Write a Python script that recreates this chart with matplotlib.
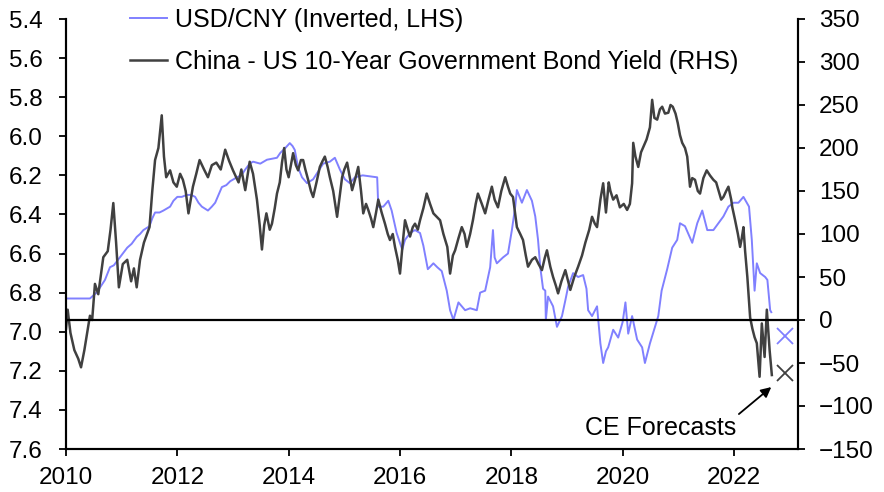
import matplotlib
matplotlib.use("Agg")
import matplotlib.pyplot as plt

plt.rcParams['font.family'] = ['Liberation Sans', 'DejaVu Sans']

# ---------- DATA ----------
# USD/CNY, LHS (inverted)
cny_years = [2010.0, 2010.43, 2010.47, 2010.55, 2010.62, 2010.7, 2010.79, 2010.86, 2010.94, 2011.02,
             2011.1, 2011.18, 2011.27, 2011.33, 2011.39, 2011.5, 2011.55, 2011.6, 2011.68, 2011.75,
             2011.87, 2011.93, 2012.0, 2012.08, 2012.17, 2012.25, 2012.32, 2012.38, 2012.44, 2012.55,
             2012.62, 2012.68, 2012.74, 2012.8, 2012.88, 2012.95, 2013.07, 2013.15, 2013.22, 2013.3,
             2013.36, 2013.49, 2013.61, 2013.79, 2013.85, 2013.94, 2014.02, 2014.07, 2014.11, 2014.17,
             2014.24, 2014.33, 2014.44, 2014.53, 2014.62, 2014.74, 2014.83, 2014.92, 2015.01, 2015.1,
             2015.19, 2015.33, 2015.59, 2015.61, 2015.7, 2015.79, 2015.85, 2015.94, 2016.04, 2016.09,
             2016.18, 2016.27, 2016.36, 2016.42, 2016.5, 2016.6, 2016.67, 2016.75, 2016.84, 2016.9,
             2016.96, 2017.05, 2017.17, 2017.26, 2017.38, 2017.44, 2017.53, 2017.62, 2017.67, 2017.7,
             2017.74, 2017.85, 2017.94, 2018.01, 2018.07, 2018.1, 2018.19, 2018.28, 2018.37, 2018.43,
             2018.48, 2018.52, 2018.57, 2018.61, 2018.62, 2018.66, 2018.75, 2018.82, 2018.91, 2018.97,
             2019.02, 2019.11, 2019.2, 2019.29, 2019.35, 2019.38, 2019.45, 2019.54, 2019.6, 2019.65,
             2019.7, 2019.74, 2019.83, 2019.92, 2020.0, 2020.05, 2020.1, 2020.17, 2020.26, 2020.35,
             2020.4, 2020.49, 2020.58, 2020.64, 2020.7, 2020.8, 2020.89, 2020.98, 2021.03, 2021.12,
             2021.25, 2021.34, 2021.43, 2021.52, 2021.63, 2021.72, 2021.81, 2021.9, 2021.99, 2022.08,
             2022.17, 2022.27, 2022.32, 2022.37, 2022.41, 2022.47, 2022.56, 2022.6, 2022.65, 2022.67]
cny_values = [6.83, 6.83, 6.82, 6.80, 6.77, 6.735, 6.67, 6.66, 6.63, 6.60,
              6.57, 6.55, 6.515, 6.50, 6.48, 6.46, 6.42, 6.39, 6.39, 6.38,
              6.36, 6.33, 6.31, 6.31, 6.30, 6.30, 6.31, 6.34, 6.36, 6.38,
              6.36, 6.34, 6.30, 6.26, 6.25, 6.23, 6.21, 6.20, 6.17, 6.14,
              6.13, 6.14, 6.12, 6.11, 6.085, 6.06, 6.035, 6.05, 6.07, 6.16,
              6.21, 6.24, 6.22, 6.18, 6.14, 6.13, 6.11, 6.17, 6.22, 6.24,
              6.21, 6.20, 6.21, 6.36, 6.36, 6.33, 6.38, 6.495, 6.58, 6.53,
              6.495, 6.48, 6.495, 6.56, 6.68, 6.65, 6.67, 6.69, 6.79, 6.89,
              6.94, 6.85, 6.89, 6.88, 6.89, 6.80, 6.79, 6.67, 6.48, 6.62,
              6.65, 6.62, 6.60, 6.48, 6.36, 6.275, 6.34, 6.275, 6.33, 6.41,
              6.53, 6.67, 6.78, 6.79, 6.94, 6.82, 6.87, 6.975, 6.92, 6.84,
              6.77, 6.70, 6.72, 6.71, 6.78, 6.89, 6.92, 6.87, 7.06, 7.16,
              7.10, 7.08, 6.99, 7.03, 6.95, 6.85, 7.01, 6.92, 7.04, 7.08,
              7.16, 7.06, 6.975, 6.92, 6.79, 6.68, 6.57, 6.53, 6.445, 6.46,
              6.545, 6.445, 6.38, 6.48, 6.48, 6.445, 6.41, 6.36, 6.34, 6.34,
              6.31, 6.36, 6.53, 6.79, 6.65, 6.70, 6.72, 6.735, 6.89, 6.90]

# China - US 10-year yield spread (bp), RHS
spread_years = [2010.0, 2010.03, 2010.08, 2010.15, 2010.22, 2010.27, 2010.33, 2010.38, 2010.43, 2010.47,
                2010.52, 2010.58, 2010.67, 2010.75, 2010.8, 2010.85, 2010.9, 2010.95, 2011.02, 2011.1,
                2011.17, 2011.22, 2011.27, 2011.33, 2011.4, 2011.5, 2011.55, 2011.6, 2011.66, 2011.72,
                2011.76, 2011.8, 2011.87, 2011.93, 2011.99, 2012.05, 2012.1, 2012.15, 2012.2, 2012.28,
                2012.34, 2012.4, 2012.48, 2012.55, 2012.62, 2012.7, 2012.78, 2012.86, 2012.93, 2013.0,
                2013.1, 2013.15, 2013.22, 2013.3, 2013.36, 2013.43, 2013.48, 2013.52, 2013.56, 2013.6,
                2013.66, 2013.7, 2013.75, 2013.79, 2013.84, 2013.88, 2013.92, 2013.96, 2014.0, 2014.04,
                2014.08, 2014.13, 2014.17, 2014.22, 2014.26, 2014.3, 2014.35, 2014.4, 2014.44, 2014.5,
                2014.56, 2014.61, 2014.65, 2014.7, 2014.74, 2014.8, 2014.87, 2014.92, 2014.96, 2015.0,
                2015.05, 2015.1, 2015.14, 2015.2, 2015.25, 2015.3, 2015.34, 2015.39, 2015.43, 2015.48,
                2015.52, 2015.57, 2015.61, 2015.67, 2015.73, 2015.78, 2015.82, 2015.87, 2015.91, 2015.96,
                2016.0, 2016.05, 2016.09, 2016.14, 2016.18, 2016.23, 2016.27, 2016.32, 2016.36, 2016.42,
                2016.48, 2016.54, 2016.6, 2016.66, 2016.72, 2016.78, 2016.85, 2016.9, 2016.95, 2016.99,
                2017.05, 2017.11, 2017.16, 2017.2, 2017.26, 2017.31, 2017.36, 2017.4, 2017.47, 2017.53,
                2017.59, 2017.65, 2017.7, 2017.76, 2017.82, 2017.89, 2017.94, 2017.98, 2018.03, 2018.1,
                2018.16, 2018.21, 2018.26, 2018.3, 2018.37, 2018.43, 2018.49, 2018.55, 2018.6, 2018.64,
                2018.7, 2018.75, 2018.8, 2018.84, 2018.9, 2018.97, 2019.02, 2019.06, 2019.13, 2019.2,
                2019.27, 2019.33, 2019.4, 2019.45, 2019.5, 2019.54, 2019.6, 2019.65, 2019.7, 2019.75,
                2019.78, 2019.83, 2019.89, 2019.95, 2020.02, 2020.08, 2020.13, 2020.17, 2020.19, 2020.23,
                2020.28, 2020.33, 2020.37, 2020.43, 2020.49, 2020.53, 2020.57, 2020.62, 2020.67, 2020.71,
                2020.76, 2020.82, 2020.86, 2020.9, 2020.95, 2020.99, 2021.03, 2021.07, 2021.12, 2021.16,
                2021.21, 2021.25, 2021.3, 2021.35, 2021.39, 2021.45, 2021.51, 2021.57, 2021.63, 2021.68,
                2021.72, 2021.77, 2021.81, 2021.86, 2021.9, 2021.95, 2021.97, 2022.02, 2022.07, 2022.11,
                2022.14, 2022.17, 2022.2, 2022.24, 2022.29, 2022.33, 2022.37, 2022.41, 2022.46, 2022.5,
                2022.55, 2022.59, 2022.64, 2022.68]
spread_values = [-10, 12, -15, -35, -45, -55, -35, -15, 5, 0,
                 42, 30, 73, 80, 105, 136, 90, 38, 65, 70,
                 45, 60, 38, 70, 90, 108, 150, 186, 200, 238,
                 190, 166, 174, 160, 155, 170, 163, 150, 124, 155,
                 170, 186, 175, 166, 180, 183, 175, 198, 185, 174,
                 160, 175, 151, 184, 170, 140, 110, 82, 110, 124,
                 105, 112, 130, 147, 160, 183, 200, 175, 166, 180,
                 194, 180, 174, 186, 186, 175, 163, 150, 143, 160,
                 178, 185, 190, 178, 166, 150, 120, 145, 166, 175,
                 183, 165, 151, 165, 178, 150, 124, 135, 128, 118,
                 108, 125, 140, 125, 112, 100, 93, 100, 85, 70,
                 54, 90, 116, 105, 97, 108, 112, 105, 116, 130,
                 147, 135, 124, 120, 116, 100, 85, 54, 75, 81,
                 95, 108, 100, 85, 100, 116, 135, 147, 135, 124,
                 140, 155, 140, 131, 150, 166, 155, 147, 143, 108,
                 100, 93, 75, 62, 70, 73, 65, 58, 72, 81,
                 62, 50, 40, 31, 45, 58, 45, 35, 50, 62,
                 75, 90, 105, 120, 112, 108, 140, 159, 125, 160,
                 150, 140, 145, 131, 135, 128, 135, 159, 206, 190,
                 178, 195, 201, 210, 224, 256, 235, 233, 245, 248,
                 240, 241, 250, 248, 240, 229, 215, 206, 200, 190,
                 155, 165, 163, 150, 147, 165, 174, 168, 163, 160,
                 151, 140, 143, 150, 155, 140, 131, 116, 100, 85,
                 95, 108, 80, 50, 3, -10, -20, -27, -66, -4,
                 -43, 12, -35, -64]

# CE forecasts
fc_year = 2022.92
cny_forecast = 7.02
spread_forecast = -62

BLUE = "#8080ff"
GREY = "#404040"
FS = 18
TICK_FS = 17.5

# ---------- PLOTTING ----------
fig = plt.figure(figsize=(8.84, 4.92), dpi=100)
ax = fig.add_axes([66 / 884, 1 - 449 / 492, 732 / 884, 430 / 492])
ax2 = ax.twinx()

l1, = ax.plot(cny_years, cny_values, color=BLUE, lw=1.4, label="USD/CNY (Inverted, LHS)")
l2, = ax2.plot(spread_years, spread_values, color=GREY, lw=1.8,
               label="China - US 10-Year Government Bond Yield (RHS)")
ax2.axhline(0, color="black", lw=1.6)

ax.plot([fc_year], [cny_forecast], marker="x", ms=11.5, mew=1.3, color=BLUE, ls="none")
ax2.plot([fc_year], [spread_forecast], marker="x", ms=11.5, mew=1.3, color=GREY, ls="none")

ax.set_xlim(2010, 2023.15)
ax.set_ylim(7.6, 5.4)
ax.set_yticks([5.4 + 0.2 * i for i in range(12)])
ax.set_yticklabels([f"{5.4 + 0.2 * i:.1f}" for i in range(12)])
ax2.set_ylim(-150, 350)
ax2.set_yticks(range(-150, 351, 50))
ax.set_xticks(range(2010, 2023, 2))

for a in (ax, ax2):
    a.spines["top"].set_visible(False)
    for s in ("left", "right", "bottom"):
        a.spines[s].set_linewidth(1.5)
    a.tick_params(direction="out", length=5, width=1.3, labelsize=TICK_FS, colors="black")
ax.tick_params(axis="y", pad=12)
ax2.tick_params(axis="y", pad=10)
ax.tick_params(axis="x", pad=8)

ax2.annotate("CE Forecasts", xy=(2022.67, -78), xytext=(2020.68, -126),
             ha="center", va="center", fontsize=FS,
             arrowprops=dict(arrowstyle="-|>", color="black", lw=1.3,
                             relpos=(1.0, 1.0), shrinkA=0, shrinkB=0,
                             mutation_scale=15))

ax2.legend(handles=[l1, l2], loc="upper left", bbox_to_anchor=(0.087, 1.025),
           frameon=False, fontsize=FS, borderpad=0, borderaxespad=0,
           handlelength=1.48, handletextpad=0.32, labelspacing=0.71)

fig.savefig("out.png", dpi=100)
